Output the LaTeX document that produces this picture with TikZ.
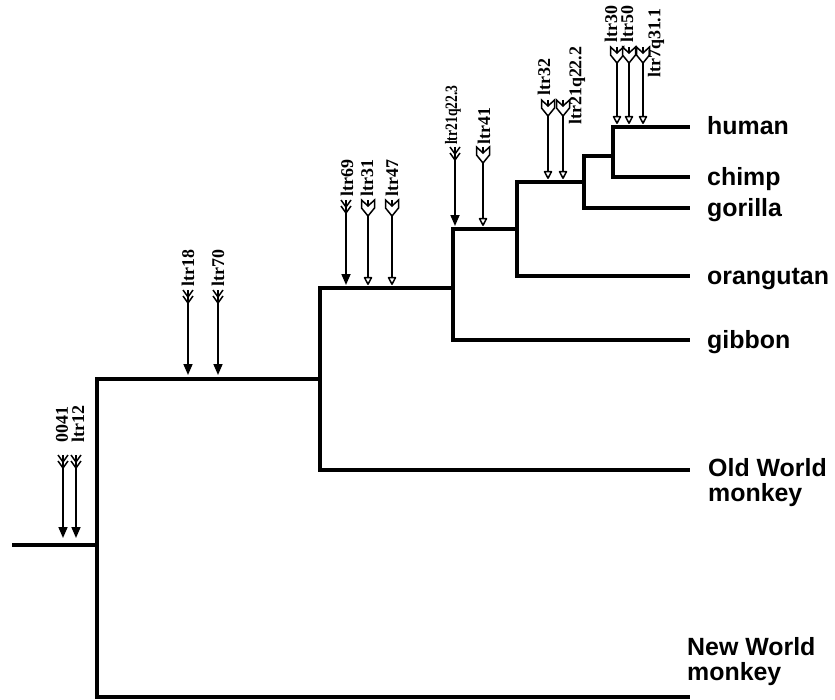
\documentclass[tikz,border=0pt]{standalone}
\usepackage{fontspec}
\setmainfont{Liberation Serif}
\newfontfamily\specfont{Liberation Sans}
\usetikzlibrary{arrows.meta}
\begin{document}
\begin{tikzpicture}[x=1bp,y=-1bp,
  branch/.style={line width=3.1bp, line join=miter},
  sarrow/.style={line width=1.7bp, -{Triangle[width=9bp,length=11bp]}},
  harrow/.style={line width=1.6bp, -{Triangle[open,round,width=9bp,length=9bp,line width=1.5bp]}},
  fletch/.pic={\draw[line width=1.5bp] (-5,0) -- (0,7) -- (5,0) (-5,6) -- (0,13) -- (5,6);},
  hollowtail/.pic={\draw[line width=1.5bp, fill=white, line join=miter] (-6.5,0) -- (0,6) -- (6.5,0) -- (6.5,8) -- (0,16) -- (-6.5,8) -- cycle;},
  lab/.style={rotate=90, anchor=west, inner sep=0pt, font=\bfseries\fontsize{18}{18}\selectfont},
  spec/.style={anchor=base west, inner sep=0pt, font=\specfont\bfseries\fontsize{25}{25}\selectfont, align=left},
]
\useasboundingbox (0,0) rectangle (835,700);
% tree junctions
\coordinate (r0) at (12,545);
\coordinate (n1) at (97,545);
\coordinate (n2) at (320,379);
\coordinate (n3) at (453,288);
\coordinate (n4) at (517,229);
\coordinate (n5) at (584,182);
\coordinate (n6) at (613,156);
% leaf ends
\coordinate (eHum) at (690,127);
\coordinate (eChi) at (690,177);
\coordinate (eGor) at (690,208);
\coordinate (eOra) at (690,276);
\coordinate (eGib) at (690,340);
\coordinate (eOld) at (690,470);
\coordinate (eNew) at (690,697);
% branches
\draw[branch] (r0) -- (n1);
\draw[branch] (n1) |- (n2);
\draw[branch] (n1) |- (eNew);
\draw[branch] (n2) |- (n3);
\draw[branch] (n2) |- (eOld);
\draw[branch] (n3) |- (n4);
\draw[branch] (n3) |- (eGib);
\draw[branch] (n4) |- (n5);
\draw[branch] (n4) |- (eOra);
\draw[branch] (n5) |- (n6);
\draw[branch] (n5) |- (eGor);
\draw[branch] (n6) |- (eHum);
\draw[branch] (n6) |- (eChi);
% species labels
\node[spec] (sHum) at (707,135) {human};
\node[spec] (sChi) at (707,185) {chimp};
\node[spec] (sGor) at (707,216) {gorilla};
\node[spec] (sOra) at (707,284) {orangutan};
\node[spec] (sGib) at (707,348) {gibbon};
\node[spec, anchor=north west] (sOld) at (708,458) {Old World\\monkey};
\node[spec, anchor=north west] (sNew) at (687,637) {New World\\monkey};
% arrows: tail and head points
\coordinate (t1) at (63,455);  \coordinate (h1) at (63,538);
\coordinate (t2) at (76,455);  \coordinate (h2) at (76,538);
\coordinate (t3) at (188,290); \coordinate (h3) at (188,375);
\coordinate (t4) at (218,290); \coordinate (h4) at (218,375);
\coordinate (t5) at (346,200); \coordinate (h5) at (346,285);
\coordinate (t6) at (368,200); \coordinate (h6) at (368,285);
\coordinate (t7) at (392,200); \coordinate (h7) at (392,285);
\coordinate (t8) at (455,147); \coordinate (h8) at (455,226);
\coordinate (t9) at (483,147); \coordinate (h9) at (483,226);
\coordinate (t10) at (548,100); \coordinate (h10) at (548,179);
\coordinate (t11) at (563,100); \coordinate (h11) at (563,179);
\coordinate (t12) at (617,47); \coordinate (h12) at (617,124);
\coordinate (t13) at (629,47); \coordinate (h13) at (629,124);
\coordinate (t14) at (643,47); \coordinate (h14) at (643,124);
% solid arrows
\foreach \i in {1,2,3,4,5,8} {
  \draw[sarrow] (t\i) -- (h\i);
  \pic at (t\i) {fletch};
}
% hollow arrows
\foreach \i in {6,7,9,10,11,12,13,14} {
  \draw[harrow] (t\i) -- (h\i);
  \pic at (t\i) {hollowtail};
}
% arrow labels
\node[lab] (L1) at (62,443) {0041};
\node[lab] (L2) at (78,443) {ltr12};
\node[lab] (L3) at (188,287) {ltr18};
\node[lab] (L4) at (218,287) {ltr70};
\node[lab] (L5) at (347,197) {ltr69};
\node[lab] (L6) at (367,197) {ltr31};
\node[lab] (L7) at (392,197) {ltr47};
\node[lab, font=\bfseries\fontsize{17.5}{17.5}\selectfont, xscale=0.78] (L8) at (453,145) {ltr21q22.3};
\node[lab] (L9) at (484,145) {ltr41};
\node[lab] (L10) at (544,96) {ltr32};
\node[lab] (L11) at (577,125) {ltr21q22.2};
\node[lab] (L12) at (611,43) {ltr30};
\node[lab] (L13) at (627,43) {ltr50};
\node[lab] (L14) at (656,78) {ltr7q31.1};
\end{tikzpicture}
\end{document}
